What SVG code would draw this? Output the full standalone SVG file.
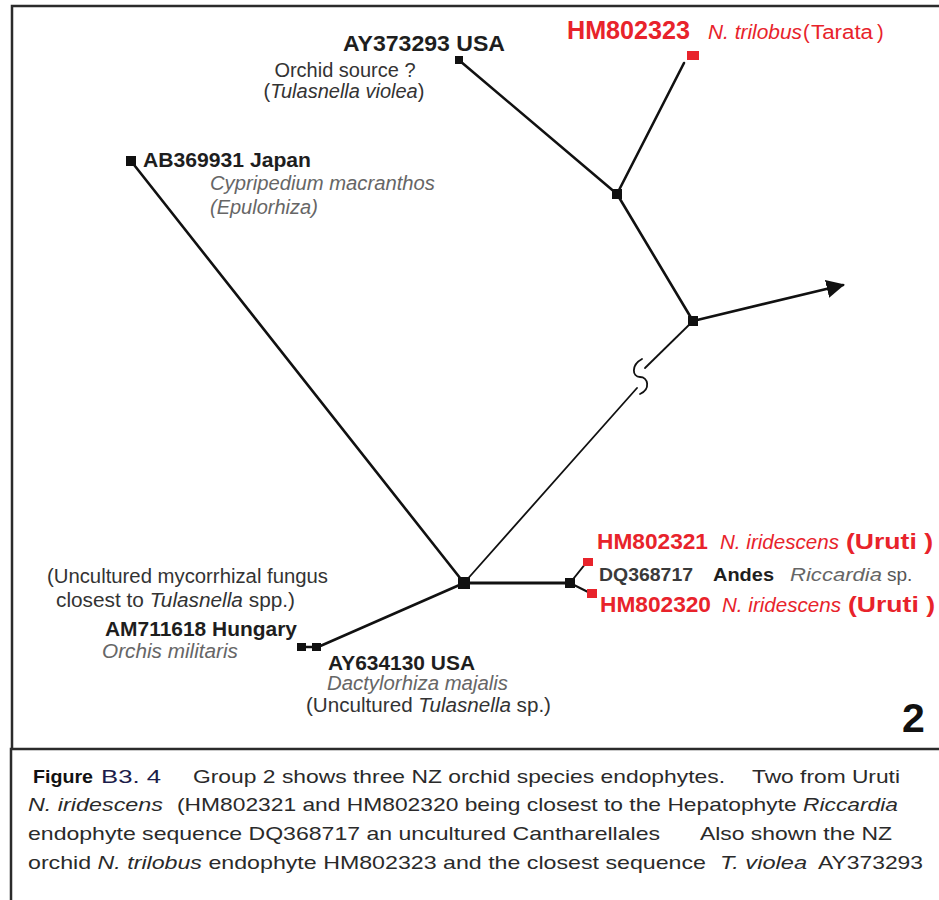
<svg xmlns="http://www.w3.org/2000/svg" width="939" height="900" viewBox="0 0 939 900">
  <defs>
    <style>
      text { font-family: "Liberation Sans", Arial, sans-serif; }
      .b { font-weight: bold; fill: #1e1e1e; font-size: 21px; }
      .r { fill: #333; font-size: 20px; }
      .i { font-style: italic; fill: #666; font-size: 20px; }
      .red { fill: #e8232b; }
      .cap { fill: #2a2a2a; font-size: 19px; }
      .capi { fill: #2a2a2a; font-size: 19px; font-style: italic; }
      .frame { stroke: #2b2b2b; stroke-width: 2.5; fill: none; }
      .br { stroke: #111; stroke-width: 2.6; fill: none; stroke-linecap: round; }
      .thin { stroke: #111; stroke-width: 1.8; fill: none; stroke-linecap: round; }
      .nd { fill: #111; }
      .nr { fill: #e8232b; }
    </style>
    <marker id="arrow" viewBox="0 0 10 10" refX="9" refY="5" markerWidth="7" markerHeight="7" orient="auto">
      <path d="M0,0 L10,5 L0,10 z" fill="#111"/>
    </marker>
  </defs>

  <rect width="939" height="900" fill="#fff"/>

  <!-- frame -->
  <g id="frame">
    <path class="frame" d="M939,6 H12 V749"/>
    <path class="frame" d="M939,749 H11 V900"/>
  </g>

  <!-- connectors -->
  <g id="connectors">
    <line class="br" x1="460" y1="61" x2="617" y2="194"/>
    <line class="br" x1="684" y1="63" x2="617" y2="194"/>
    <line class="br" x1="617" y1="194" x2="693" y2="321"/>
    <line class="br" x1="693" y1="321" x2="843" y2="285" marker-end="url(#arrow)"/>
    <line class="thin" x1="464" y1="583" x2="637" y2="388"/>
    <path class="thin" d="M642,359 C631,365 632,377 640,377 C648,377 651,389 640,394"/>
    <line class="thin" x1="645" y1="368" x2="693" y2="321"/>
    <line class="br" x1="131" y1="161" x2="464" y2="583"/>
    <line class="br" x1="464" y1="583" x2="570" y2="583" style="stroke-width:3.2"/>
    <line class="br" x1="464" y1="583" x2="318" y2="647"/>
    <line class="br" x1="300" y1="647" x2="318" y2="647"/>
    <line class="br" x1="570" y1="583" x2="586" y2="563" style="stroke-width:2"/>
    <line class="br" x1="570" y1="583" x2="590" y2="593" style="stroke-width:2"/>
  </g>

  <!-- internal junctions -->
  <g id="junction-a"><rect class="nd" x="612" y="189" width="10" height="10"/></g>
  <g id="junction-b"><rect class="nd" x="688" y="316" width="10" height="10"/></g>
  <g id="junction-c"><rect class="nd" x="458" y="577" width="12" height="12"/></g>
  <g id="junction-d"><rect class="nd" x="565" y="578" width="10" height="10"/></g>

  <!-- AY373293 -->
  <g id="ay373293">
    <rect class="nd" x="455" y="56" width="8" height="8"/>
    <text class="b" x="343" y="51" style="font-size:22px" textLength="162" lengthAdjust="spacingAndGlyphs">AY373293 USA</text>
    <text class="r" x="345" y="77" text-anchor="middle">Orchid source ?</text>
    <text class="r" x="344" y="98" text-anchor="middle">(<tspan font-style="italic">Tulasnella violea</tspan>)</text>
  </g>

  <!-- HM802323 -->
  <g id="hm802323">
    <rect class="nr" x="687" y="51" width="12" height="9"/>
    <text class="b red" x="567" y="39" style="font-size:25px" textLength="123" lengthAdjust="spacingAndGlyphs">HM802323</text>
    <text class="i red" x="708" y="39" textLength="94" lengthAdjust="spacingAndGlyphs">N. trilobus</text>
    <text class="r red" x="803" y="39">(</text>
    <text class="r red" x="811" y="39" textLength="62" lengthAdjust="spacingAndGlyphs">Tarata</text>
    <text class="r red" x="877" y="39">)</text>
  </g>

  <!-- AB369931 -->
  <g id="ab369931">
    <rect class="nd" x="126" y="156" width="10" height="10"/>
    <text class="b" x="143" y="167" textLength="168" lengthAdjust="spacingAndGlyphs">AB369931  Japan</text>
    <text class="i" x="210" y="190" textLength="225" lengthAdjust="spacingAndGlyphs">Cypripedium macranthos</text>
    <text class="i" x="210" y="214">(Epulorhiza)</text>
  </g>

  <!-- AM711618 -->
  <g id="am711618">
    <rect class="nd" x="297" y="643" width="9" height="8"/>
    <text class="r" x="47" y="583" textLength="281" lengthAdjust="spacingAndGlyphs">(Uncultured mycorrhizal fungus</text>
    <text class="r" x="56" y="607" textLength="239" lengthAdjust="spacingAndGlyphs">closest to <tspan font-style="italic">Tulasnella</tspan> spp.)</text>
    <text class="b" x="105" y="636" textLength="192" lengthAdjust="spacingAndGlyphs">AM711618  Hungary</text>
    <text class="i" x="102" y="658" textLength="136" lengthAdjust="spacingAndGlyphs">Orchis militaris</text>
  </g>

  <!-- AY634130 -->
  <g id="ay634130">
    <rect class="nd" x="312" y="643" width="9" height="8"/>
    <text class="b" x="328" y="670" textLength="147" lengthAdjust="spacingAndGlyphs">AY634130  USA</text>
    <text class="i" x="327" y="690" textLength="181" lengthAdjust="spacingAndGlyphs">Dactylorhiza majalis</text>
    <text class="r" x="306" y="712" textLength="245" lengthAdjust="spacingAndGlyphs">(Uncultured <tspan font-style="italic">Tulasnella</tspan> sp.)</text>
  </g>

  <!-- HM802321 -->
  <g id="hm802321">
    <rect class="nr" x="583" y="558" width="10" height="8"/>
    <text class="b red" x="597" y="549" style="font-size:22px" textLength="111" lengthAdjust="spacingAndGlyphs">HM802321</text>
    <text class="i red" x="720" y="549" textLength="119" lengthAdjust="spacingAndGlyphs">N. iridescens</text>
    <text class="b red" x="846" y="549" style="font-size:22px" textLength="87" lengthAdjust="spacingAndGlyphs">(Uruti )</text>
  </g>

  <!-- DQ368717 -->
  <g id="dq368717">
    <text class="b" x="599" y="581" style="font-size:19px;fill:#3a3a3a" textLength="94" lengthAdjust="spacingAndGlyphs">DQ368717</text>
    <text class="b" x="713" y="581" style="font-size:19px" textLength="61" lengthAdjust="spacingAndGlyphs">Andes</text>
    <text class="i" x="790" y="581" style="font-size:19px" textLength="92" lengthAdjust="spacingAndGlyphs">Riccardia</text>
    <text class="r" x="887" y="581" style="font-size:19px;fill:#555">sp.</text>
  </g>

  <!-- HM802320 -->
  <g id="hm802320">
    <rect class="nr" x="587" y="589" width="10" height="9"/>
    <text class="b red" x="600" y="612" style="font-size:22px" textLength="111" lengthAdjust="spacingAndGlyphs">HM802320</text>
    <text class="i red" x="722" y="612" textLength="119" lengthAdjust="spacingAndGlyphs">N. iridescens</text>
    <text class="b red" x="848" y="612" style="font-size:22px" textLength="87" lengthAdjust="spacingAndGlyphs">(Uruti )</text>
  </g>

  <!-- group number -->
  <text class="b" x="902" y="732" style="font-size:41px;fill:#111">2</text>

  <!-- caption -->
  <g id="caption">
    <text class="cap" x="33" y="783" style="font-weight:bold;fill:#111" textLength="60" lengthAdjust="spacingAndGlyphs">Figure</text>
    <text class="cap" x="101" y="783" style="fill:#1c1c4a" textLength="60" lengthAdjust="spacingAndGlyphs">B3. 4</text>
    <text class="cap" x="193" y="783" textLength="532" lengthAdjust="spacingAndGlyphs">Group 2 shows three NZ orchid species endophytes.</text>
    <text class="cap" x="752" y="783" textLength="148" lengthAdjust="spacingAndGlyphs">Two from Uruti</text>

    <text class="capi" x="28" y="811" textLength="135" lengthAdjust="spacingAndGlyphs">N. iridescens</text>
    <text class="cap" x="177" y="811" textLength="721" lengthAdjust="spacingAndGlyphs">(HM802321 and HM802320 being closest to the Hepatophyte <tspan font-style="italic">Riccardia</tspan></text>

    <text class="cap" x="28" y="840" textLength="632" lengthAdjust="spacingAndGlyphs">endophyte sequence DQ368717 an  uncultured Cantharellales</text>
    <text class="cap" x="700" y="840" textLength="192" lengthAdjust="spacingAndGlyphs">Also shown the NZ</text>

    <text class="cap" x="28" y="869" textLength="678" lengthAdjust="spacingAndGlyphs">orchid <tspan font-style="italic">N. trilobus</tspan> endophyte HM802323 and the closest sequence</text>
    <text class="capi" x="720" y="869" textLength="87" lengthAdjust="spacingAndGlyphs">T. violea</text>
    <text class="cap" x="818" y="869" textLength="105" lengthAdjust="spacingAndGlyphs">AY373293</text>
  </g>
</svg>
